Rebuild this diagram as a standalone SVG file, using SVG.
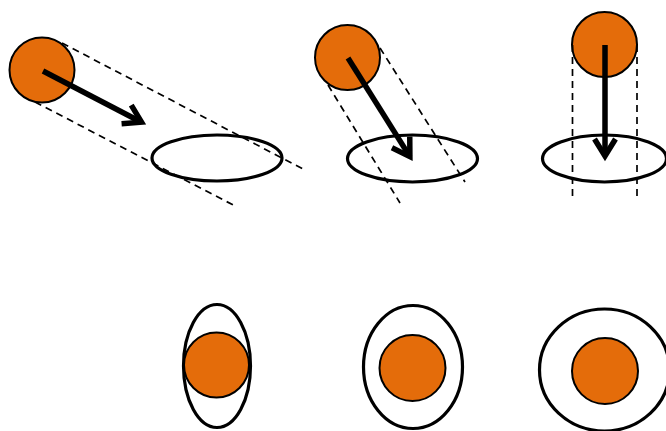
<svg xmlns="http://www.w3.org/2000/svg" width="666" height="431" viewBox="0 0 666 431">
<style>
.ball{fill:#E46C0A;stroke:#000;stroke-width:2}
.ring{fill:none;stroke:#000;stroke-width:3.2}
.dash{fill:none;stroke:#000;stroke-width:1.7;stroke-dasharray:7 5}
.arrow{fill:none;stroke:#000;stroke-width:5.5;marker-end:url(#chev)}
</style>
<defs>
<marker id="chev" markerUnits="userSpaceOnUse" markerWidth="40" markerHeight="40" refX="0" refY="0" orient="auto" overflow="visible">
<path d="M -17 -10.5 L 0 0 L -17 10.5" fill="none" stroke="#000" stroke-width="5.5" stroke-linejoin="miter"/>
</marker>
</defs>
<rect width="666" height="431" fill="#fff"/>
<g id="panel1">
<ellipse class="ring" cx="217" cy="158" rx="65" ry="23"/>
<circle class="ball" cx="42" cy="70" r="32.5"/>
</g>
<g id="panel2">
<ellipse class="ring" cx="412.5" cy="158.5" rx="65" ry="23.5"/>
<circle class="ball" cx="347.5" cy="57.5" r="32.5"/>
</g>
<g id="panel3">
<ellipse class="ring" cx="604.5" cy="158.5" rx="62" ry="23.5"/>
<circle class="ball" cx="604.5" cy="44.5" r="32.5"/>
</g>
<g id="bottom1">
<ellipse class="ring" cx="217" cy="366" rx="33.5" ry="61.5"/>
<circle class="ball" cx="216.5" cy="365" r="32.5"/>
</g>
<g id="bottom2">
<ellipse class="ring" cx="413" cy="367" rx="49.5" ry="61.5"/>
<circle class="ball" cx="412.5" cy="368" r="33"/>
</g>
<g id="bottom3">
<ellipse class="ring" cx="604.5" cy="370" rx="65" ry="61"/>
<circle class="ball" cx="605" cy="371" r="33"/>
</g>
<g id="connectors">
<line class="dash" x1="62" y1="43" x2="303" y2="169"/>
<line class="dash" x1="35" y1="102" x2="237" y2="207"/>
<line class="dash" x1="328" y1="85" x2="400" y2="203"/>
<line class="dash" x1="380" y1="48" x2="465" y2="182"/>
<line class="dash" x1="572.5" y1="45" x2="572.5" y2="201"/>
<line class="dash" x1="637" y1="45" x2="637" y2="201"/>
<line class="arrow" x1="43" y1="71" x2="141.5" y2="122.2"/>
<line class="arrow" x1="348" y1="58" x2="409.9" y2="156.6"/>
<line class="arrow" x1="605" y1="45" x2="605" y2="156"/>
</g>
</svg>
